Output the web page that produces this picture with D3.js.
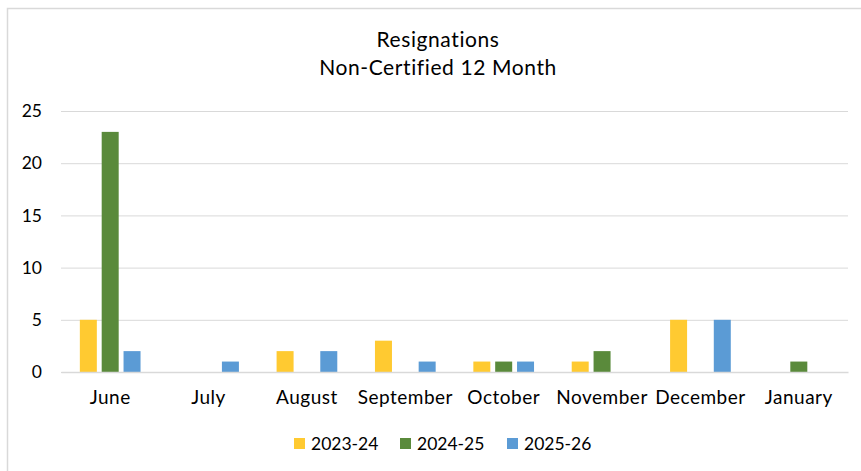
<!DOCTYPE html>
<html>
<head>
<meta charset="utf-8">
<script src="https://cdn.jsdelivr.net/npm/d3@7"></script>
<style>
    body { margin: 0; background: #fff; }
    svg { display: block; font-family: Lato, "Noto Sans", sans-serif; }
</style>
</head>
<body>
<svg id="chart"></svg>
<script>
// chart data
const months = ["June", "July", "August", "September", "October", "November", "December", "January"];
const seriesNames = ["2023-24", "2024-25", "2025-26"];
const values2324 = [5, 0, 2, 3, 1, 1, 5, 0];
const values2425 = [23, 0, 0, 0, 1, 2, 0, 1];
const values2526 = [2, 1, 2, 1, 1, 0, 5, 0];
const yTicks = [0, 5, 10, 15, 20, 25];
const colors = ["#FFCA31", "#5A8A3B", "#5B9BD5"];

const seriesValues = [values2324, values2425, values2526];

const svgWidth = 861;
const svgHeight = 471;
const margin = { top: 111, right: 13, bottom: 99, left: 61 };
const chartWidth = svgWidth - margin.left - margin.right;
const chartHeight = svgHeight - margin.top - margin.bottom;

const svg = d3.select("#chart").attr("width", svgWidth).attr("height", svgHeight);

// outer chart border (only top and left show in the picture)
svg.append("rect")
    .attr("x", 7.5).attr("y", 8.5)
    .attr("width", svgWidth + 20).attr("height", svgHeight + 20)
    .attr("fill", "none").attr("stroke", "#d9d9d9").attr("stroke-width", 1.5);

// title
const title = svg.append("text")
    .attr("text-anchor", "middle")
    .attr("font-size", 21)
    .attr("letter-spacing", 0.6)
    .attr("fill", "#000");
title.append("tspan").attr("x", 438).attr("y", 47).text("Resignations");
title.append("tspan").attr("x", 438).attr("y", 75).text("Non-Certified 12 Month");

const chart = svg.append("g").attr("transform", `translate(${margin.left},${margin.top})`);

// scales
const x0 = d3.scaleBand().domain(months).range([0, chartWidth]).paddingInner(0.383).paddingOuter(0.1915);
const x1 = d3.scaleBand().domain(seriesNames).range([0, x0.bandwidth()]).paddingInner(0.222);
const y = d3.scaleLinear().domain([0, 25]).range([chartHeight, 0]);

// horizontal gridlines
chart.append("g")
    .attr("class", "grid")
    .call(d3.axisLeft(y).tickValues(yTicks).tickSize(-chartWidth).tickFormat(""))
    .call(g => g.select(".domain").remove())
    .call(g => g.selectAll("line").attr("stroke", "#d9d9d9").attr("stroke-width", 1));

// y axis labels
chart.append("g")
    .call(d3.axisLeft(y).tickValues(yTicks).tickSize(0).tickPadding(19))
    .call(g => g.select(".domain").remove())
    .call(g => g.selectAll("text").attr("font-size", 17.5).attr("fill", "#000").attr("font-family", "Lato, sans-serif"));

// bars
const groups = chart.selectAll(".month")
    .data(months)
    .enter()
    .append("g")
    .attr("class", "month")
    .attr("transform", (m) => `translate(${x0(m)},0)`);

groups.selectAll("rect")
    .data((m, i) => seriesNames.map((s, j) => ({ series: s, value: seriesValues[j][i], color: colors[j] })))
    .enter()
    .filter((d) => d.value > 0)
    .append("rect")
    .attr("x", (d) => x1(d.series))
    .attr("y", (d) => y(d.value))
    .attr("width", x1.bandwidth())
    .attr("height", (d) => y(0) - y(d.value))
    .attr("fill", (d) => d.color);

// x axis
chart.append("g")
    .attr("transform", `translate(0,${chartHeight})`)
    .call(d3.axisBottom(x0).tickSize(0).tickPadding(19))
    .call(g => g.select(".domain").attr("stroke", "#d9d9d9").attr("stroke-width", 1.5))
    .call(g => g.selectAll("text").attr("font-size", 19).attr("letter-spacing", 0.5).attr("fill", "#000").attr("font-family", "Lato, sans-serif"));

// legend
const legendX = [294, 400, 507];
const legend = svg.append("g");
seriesNames.forEach((name, i) => {
    legend.append("rect")
        .attr("x", legendX[i]).attr("y", 438)
        .attr("width", 11).attr("height", 11)
        .attr("fill", colors[i]);
    legend.append("text")
        .attr("x", legendX[i] + 17).attr("y", 449.5)
        .attr("font-size", 17.5)
        .attr("fill", "#000")
        .text(name);
});
</script>
</body>
</html>
